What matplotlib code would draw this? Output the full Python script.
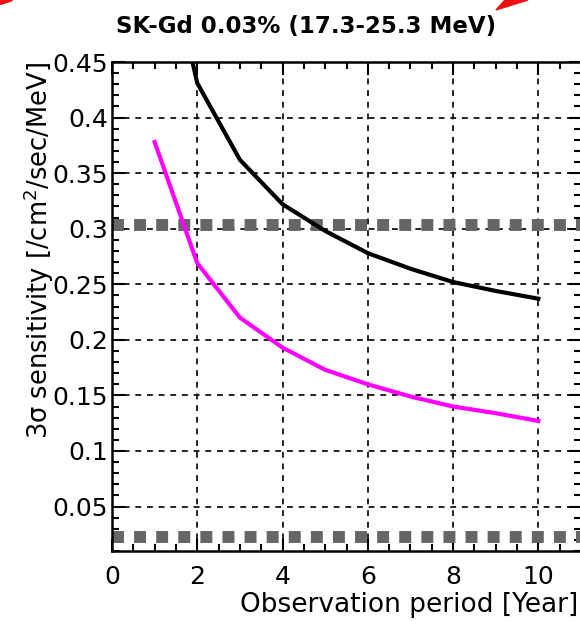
import numpy as np
import matplotlib
matplotlib.use("Agg")
import matplotlib.pyplot as plt
from matplotlib.ticker import MultipleLocator, FixedFormatter, FixedLocator
from matplotlib.patches import Polygon

plt.rcParams['font.family'] = ['DejaVu Sans']

# data
years = [1, 2, 3, 4, 5, 6, 7, 8, 9, 10]
black_sens = [0.600, 0.431, 0.362, 0.322, 0.298, 0.278, 0.264, 0.252, 0.244, 0.237]
magenta_sens = [0.378, 0.269, 0.220, 0.193, 0.173, 0.160, 0.149, 0.140, 0.134, 0.127]
ref_levels = [0.303, 0.0225]

y_ticks = [0.05, 0.1, 0.15, 0.2, 0.25, 0.3, 0.35, 0.4, 0.45]
y_labels = ['0.05', '0.1', '0.15', '0.2', '0.25', '0.3', '0.35', '0.4', '0.45']
x_ticks = [0, 2, 4, 6, 8, 10]

W, H = 580, 621
fig = plt.figure(figsize=(W / 100, H / 100), dpi=100)
ax = fig.add_axes([112 / W, 1 - 551 / H, (581 - 112) / W, (551 - 62) / H])

ax.set_xlim(0, 11)
ax.set_ylim(0.01, 0.45)

# grid first, so the gray bands sit on top
for yv in y_ticks[:-1]:
    ax.axhline(yv, color='black', lw=1.2, ls=(0, (3.5, 3.5)), zorder=1)
for xv in x_ticks[1:]:
    ax.axvline(xv, color='black', lw=1.2, ls=(0, (3.5, 3.5)), zorder=1)

for lv in ref_levels:
    ax.axhline(lv, color='#666666', lw=8.6, ls=(0, (1.0, 0.85)), zorder=2)

ax.plot(years, black_sens, color='black', lw=3.0, zorder=3)
ax.plot(years, magenta_sens, color='#ff00ff', lw=3.0, zorder=3)

ax.xaxis.set_major_locator(FixedLocator(x_ticks))
ax.xaxis.set_minor_locator(MultipleLocator(0.5))
ax.yaxis.set_major_locator(FixedLocator(y_ticks))
ax.yaxis.set_major_formatter(FixedFormatter(y_labels))
ax.yaxis.set_minor_locator(MultipleLocator(0.01))

ax.tick_params(which='both', direction='in', top=True, right=True, color='black')
ax.tick_params(which='major', length=9, width=1.5, labelsize=18)
ax.tick_params(which='minor', length=5, width=1.5)
ax.tick_params(axis='x', which='major', pad=10)
ax.tick_params(axis='y', which='major', pad=3)
for sp in ax.spines.values():
    sp.set_linewidth(1.8)

fig.text(306 / W, 1 - 27 / H, 'SK-Gd 0.03% (17.3-25.3 MeV)', ha='center', va='center',
         fontsize=16.5, fontweight='bold')
fig.text(578 / W, 1 - 605 / H, 'Observation period [Year]', ha='right', va='center',
         fontsize=19)
fig.text(39 / W, 1 - 251 / H, '3\u03c3 sensitivity [/cm$^2$/sec/MeV]', ha='center',
         va='center', rotation=90, fontsize=18.5)

# fragments of the red arrow from the slide
fig.patches.append(Polygon([[496 / W, 1 - 10 / H], [528 / W, 1.0], [505 / W, 1.0]],
                           closed=True, transform=fig.transFigure, color='#ee1111'))
fig.patches.append(Polygon([[0, 1 - 4 / H], [0, 1.0], [12 / W, 1.0]],
                           closed=True, transform=fig.transFigure, color='#ee1111'))

fig.savefig('out.png', dpi=100)
